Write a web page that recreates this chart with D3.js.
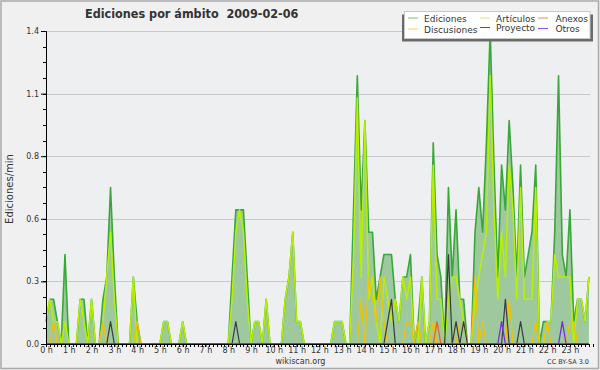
<!DOCTYPE html>
<html><head><meta charset="utf-8">
<script src="https://cdn.jsdelivr.net/npm/d3@7"></script>
<style>
html,body{margin:0;padding:0;background:#f0f0f0;}
svg{display:block;}
text{font-family:"DejaVu Sans",sans-serif;fill:#333;}
</style></head>
<body>
<svg id="chart" width="600" height="370"></svg>
<script>
// 10-minute slots, 0h .. 23h50
const slots = d3.range(144);
const hourLabels = ["0 h","1 h","2 h","3 h","4 h","5 h","6 h","7 h","8 h","9 h","10 h","11 h","12 h","13 h","14 h","15 h","16 h","17 h","18 h","19 h","20 h","21 h","22 h","23 h"];
const yTicks = [0, 0.28, 0.56, 0.84, 1.12, 1.4];
const seriesNames = ["Ediciones","Artículos","Anexos","Discusiones","Proyecto","Otros"];

const ediciones = [
0.1,0.2,0.2,0.1,0,0.4,0,0,0,0.2,
0.2,0,0.2,0,0,0.2,0.3,0.7,0.3,0,
0,0,0,0.3,0.1,0,0,0,0,0,
0,0.1,0.1,0,0,0,0.1,0,0,0,
0,0,0,0,0,0,0,0,0,0.3,
0.6,0.6,0.6,0.3,0,0.1,0.1,0,0.2,0,
0,0,0,0.2,0.3,0.5,0.1,0.1,0,0,
0,0,0,0,0,0,0.1,0.1,0.1,0,
0,0.6,1.2,0.6,1.0,0.5,0.5,0.2,0.3,0.4,
0.4,0.4,0.2,0.1,0.3,0.3,0.4,0,0.1,0.3,
0,0.1,0.9,0.4,0.3,0,0.7,0.3,0.6,0.2,
0.2,0,0,0.5,0.7,0.5,0.9,1.4,0.8,0.3,
0.8,0.6,1.0,0.7,0.3,0.8,0.3,0.4,0.5,0.8,
0,0.1,0.1,0.1,0.5,1.2,0.4,0.3,0.6,0.1,
0.2,0.2,0.1,0.3];

const articulos = [
0.1,0.2,0.1,0.1,0,0.1,0,0,0,0.2,
0.1,0,0.2,0,0,0.1,0.3,0.5,0.2,0,
0,0,0,0.3,0,0,0,0,0,0,
0,0.1,0.1,0,0,0,0.1,0,0,0,
0,0,0,0,0,0,0,0,0,0.2,
0.5,0.6,0.5,0.2,0,0.1,0.1,0,0.2,0,
0,0,0,0.2,0.3,0.5,0.1,0.1,0,0,
0,0,0,0,0,0,0.1,0.1,0.1,0,
0,0.4,1.1,0.3,1.0,0.2,0.3,0.1,0,0.3,
0.2,0.1,0.2,0.1,0.3,0.2,0.3,0,0,0.3,
0,0.1,0.8,0.2,0.2,0,0.2,0.3,0.3,0.2,
0.1,0,0,0.2,0.3,0.4,0.5,1.2,0.6,0.2,
0.5,0.3,0.8,0.6,0.2,0.7,0.2,0.2,0.2,0.7,
0,0,0.1,0.1,0.4,0.3,0.3,0.3,0.3,0,
0.2,0.2,0.1,0.3];

const anexos = [
0,0,0,0,0,0,0,0,0,0,
0,0,0,0,0,0,0,0,0,0,
0,0,0,0,0,0,0,0,0,0,
0,0,0,0,0,0,0,0,0,0,
0,0,0,0,0,0,0,0,0,0,
0,0,0,0,0,0,0,0,0,0,
0,0,0,0,0,0,0,0,0,0,
0,0,0,0,0,0,0,0,0,0,
0,0,0,0,0,0,0,0,0,0,
0,0,0,0,0,0,0,0,0,0,
0,0,0,0.1,0,0,0,0,0,0,
0,0,0,0,0,0,0,0,0,0,
0,0,0,0,0,0,0,0,0,0,
0,0,0,0,0,0,0,0,0,0,
0,0,0,0];

const discusiones = [
0,0,0.1,0,0,0,0,0,0,0,
0,0,0,0,0,0.1,0,0,0,0,
0,0,0,0,0.1,0,0,0,0,0,
0,0,0,0,0,0,0,0,0,0,
0,0,0,0,0,0,0,0,0,0,
0,0,0,0,0,0,0,0,0,0,
0,0,0,0,0,0,0,0,0,0,
0,0,0,0,0,0,0,0,0,0,
0,0,0,0.2,0,0.3,0.2,0.1,0.3,0.1,
0,0,0,0,0,0.1,0.1,0,0.1,0,
0,0,0.1,0,0,0,0,0,0,0.1,
0.1,0,0,0.3,0,0.1,0,0,0,0,
0,0,0.2,0,0,0,0,0,0,0.1,
0,0,0.1,0,0,0,0,0,0.1,0.1,
0,0,0,0];

const proyecto = [
0,0,0,0,0,0,0,0,0,0,
0,0,0,0,0,0,0,0.1,0,0,
0,0,0,0,0,0,0,0,0,0,
0,0,0,0,0,0,0,0,0,0,
0,0,0,0,0,0,0,0,0,0,
0.1,0,0,0,0,0,0,0,0,0,
0,0,0,0,0,0,0,0,0,0,
0,0,0,0,0,0,0,0,0,0,
0,0,0,0,0,0,0,0,0,0,
0.1,0.2,0,0,0,0,0,0,0,0,
0,0,0,0,0,0,0.4,0,0.1,0,
0.1,0,0,0,0,0,0,0,0,0,
0,0.2,0,0,0,0.1,0,0,0,0,
0,0,0,0,0,0,0,0,0,0,
0,0,0,0];

const otros = [
0,0,0,0,0,0,0,0,0,0,
0,0,0,0,0,0,0,0,0,0,
0,0,0,0,0,0,0,0,0,0,
0,0,0,0,0,0,0,0,0,0,
0,0,0,0,0,0,0,0,0,0,
0,0,0,0,0,0,0,0,0,0,
0,0,0,0,0,0,0,0,0,0,
0,0,0,0,0,0,0,0,0,0,
0,0,0,0,0,0,0,0,0,0,
0,0,0,0,0,0,0,0,0,0,
0,0,0,0,0,0,0,0,0,0,
0,0,0,0,0,0,0,0,0,0,
0.1,0,0,0,0,0,0,0,0,0,
0,0,0,0,0,0,0.1,0,0,0,
0,0,0,0];

const svg = d3.select("#chart");
const W = 600, H = 370;
const m = {left:46, right:592.7, top:31, bottom:344};

svg.append("rect").attr("x",1).attr("y",1).attr("width",W-2.5).attr("height",H-2.5)
  .attr("fill","#f0f0f0").attr("stroke","#a9a9a9").attr("stroke-width",1.5);

const x = d3.scaleLinear().domain([0,24]).range([m.left,m.right]);
const y = d3.scaleLinear().domain([0,1.4]).range([m.bottom,m.top]);
const tx = i => x(i/6);

// plot background
svg.append("rect").attr("x",m.left).attr("y",m.top).attr("width",m.right-m.left).attr("height",m.bottom-m.top)
  .attr("fill","#eeeff1");

// grid
svg.append("g").selectAll("line").data(yTicks.slice(1)).join("line")
  .attr("x1",m.left).attr("x2",590).attr("y1",d=>Math.round(y(d))+0.5).attr("y2",d=>Math.round(y(d))+0.5)
  .attr("stroke","#c9c9c9").attr("stroke-width",1);

// area
const area = d3.area().x((d,i)=>tx(i)).y0(y(0)).y1(d=>y(d));
svg.append("path").datum(ediciones).attr("d",area).attr("fill","#9ec99e");

const line = d3.line().x((d,i)=>tx(i)).y(d=>y(d));
const series = [
  {data:ediciones, color:"#38a838", w:1.6},
  {data:articulos, color:"#b8f000", w:1.5},
  {data:discusiones, color:"#f2c200", w:1.3},
  {data:anexos, color:"#ee6020", w:1.3},
  {data:proyecto, color:"#3a3a3a", w:1.2},
  {data:otros, color:"#7a2be0", w:1.3}
];
series.forEach(s=>{
  svg.append("path").datum(s.data).attr("d",line).attr("fill","none")
    .attr("stroke",s.color).attr("stroke-width",s.w).attr("stroke-linejoin","round");
});

// y axis
const yAxis = d3.axisLeft(y).tickValues(yTicks).tickSize(5).tickFormat(d3.format(".1f"));
const gy = svg.append("g").attr("transform",`translate(${m.left},0)`).call(yAxis);
gy.select(".domain").attr("stroke","#000");
gy.selectAll(".tick line").attr("stroke","#000");
gy.selectAll(".tick text").attr("font-size",8).attr("font-family","DejaVu Sans").attr("fill","#333").attr("x",-7);
const yMinor = d3.range(0,21).map(k=>k*0.07);
svg.append("g").selectAll("line").data(yMinor).join("line")
  .attr("x1",m.left-3).attr("x2",m.left).attr("y1",d=>Math.round(y(d))+0.5).attr("y2",d=>Math.round(y(d))+0.5)
  .attr("stroke","#000");

// x axis
const xAxis = d3.axisBottom(x).tickValues(d3.range(0,24)).tickSize(3).tickFormat((d,i)=>hourLabels[i]);
const gx = svg.append("g").attr("transform",`translate(0,${m.bottom})`).call(xAxis);
gx.select(".domain").attr("stroke","#000").attr("d",`M${m.left},0.5H${590}`);
gx.selectAll(".tick line").attr("stroke","#000");
gx.selectAll(".tick text").attr("font-size",8).attr("font-family","DejaVu Sans").attr("fill","#333").attr("y",3).attr("dy","0.71em");
svg.append("g").selectAll("line").data(d3.range(0,145)).join("line")
  .attr("x1",d=>Math.round(tx(d))+0.5).attr("x2",d=>Math.round(tx(d))+0.5)
  .attr("y1",m.bottom).attr("y2",m.bottom+3).attr("stroke","#000");

// title
svg.append("text").attr("x",85).attr("y",18).attr("font-size",12.5).attr("font-weight","bold")
  .attr("font-family","'DejaVu Sans Condensed','DejaVu Sans',sans-serif").attr("font-stretch","condensed")
  .attr("fill","#111").attr("xml:space","preserve").text("Ediciones por ámbito  2009-02-06");

// y title
svg.append("text").attr("transform","translate(13,189) rotate(-90)").attr("text-anchor","middle")
  .attr("font-family","'DejaVu Sans Mono',monospace").attr("font-size",10).attr("fill","#222").text("Ediciones/min");

// footer
svg.append("text").attr("x",300.5).attr("y",364).attr("text-anchor","middle").attr("font-size",8).text("wikiscan.org");
svg.append("text").attr("x",589).attr("y",364).attr("text-anchor","end").attr("font-size",6.5).text("CC BY-SA 3.0");

// legend
const lg = svg.append("g");
lg.append("rect").attr("x",402).attr("y",14.5).attr("width",191).attr("height",27).attr("fill","#6a6a6a");
lg.append("rect").attr("x",404.5).attr("y",11.5).attr("width",185.5).attr("height",27).attr("fill","#fff").attr("stroke","#c8c8c8");
const legendItems = [
  {name:seriesNames[0], color:"#70c870", lx:408, tx:424, ty:21.5},
  {name:seriesNames[1], color:"#c8ec70", lx:480, tx:496, ty:21.5},
  {name:seriesNames[2], color:"#ee8a5a", lx:538, tx:555.5, ty:21.5},
  {name:seriesNames[3], color:"#f8d060", lx:408, tx:424, ty:32.5},
  {name:seriesNames[4], color:"#555555", lx:480, tx:496, ty:31},
  {name:seriesNames[5], color:"#9050ee", lx:538, tx:555.5, ty:32}
];
legendItems.forEach(d=>{
  lg.append("line").attr("x1",d.lx).attr("x2",d.lx+10).attr("y1",d.ty-3.5).attr("y2",d.ty-3.5)
    .attr("stroke",d.color).attr("stroke-width",1);
  lg.append("text").attr("x",d.tx).attr("y",d.ty).attr("font-size",9).attr("fill","#333").text(d.name);
});
</script>
</body></html>
